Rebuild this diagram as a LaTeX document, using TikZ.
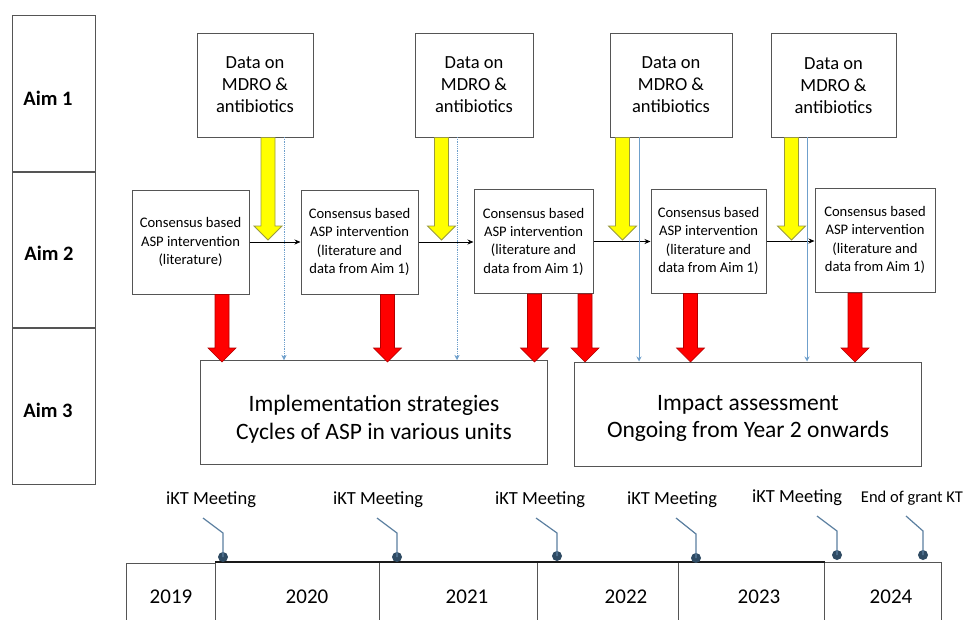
\documentclass[tikz,border=0pt]{standalone}
\usepackage{fontspec}
\setmainfont{Carlito}
\usetikzlibrary{arrows.meta,calc}
\definecolor{boxline}{HTML}{555555}
\definecolor{bluel}{HTML}{6FA0CC}
\definecolor{leadc}{HTML}{5B7FA0}
\definecolor{dotc}{HTML}{2F4B63}
\definecolor{yel}{HTML}{FFFF00}
\definecolor{yelo}{HTML}{9A9A40}
\definecolor{redf}{HTML}{FF0000}
\definecolor{redo}{HTML}{B00000}
\newcommand{\BlockArrow}[4]{% style, x, ytop, ytip
  \draw[#1] (#2-7,#3) -- (#2+7,#3) -- (#2+7,#4-14) -- (#2+14,#4-14) -- (#2,#4)
    -- (#2-14,#4-14) -- (#2-7,#4-14) -- cycle;}
\tikzset{
  aimbox/.style={draw=boxline,line width=1pt,minimum width=83pt,minimum height=157pt},
  aimtxt/.style={font=\fontsize{20.5}{24}\selectfont\bfseries},
  databox/.style={draw=boxline,line width=1pt,minimum height=104pt,align=center,
    font=\fontsize{18.5}{22}\selectfont,inner sep=0pt},
  consbox/.style={draw=boxline,line width=1pt,minimum height=104pt,align=center,
    font=\fontsize{14.6}{18.3}\selectfont,inner sep=0pt,text depth=2pt},
  bigbox/.style={draw=boxline,line width=1pt,minimum width=347pt,minimum height=104pt},
  bigtxt/.style={align=center,font=\fontsize{23.5}{27.5}\selectfont,inner sep=0pt},
  yearbox/.style={draw=boxline,line width=1pt,minimum height=90pt,inner sep=0pt},
  yeartxt/.style={font=\fontsize{21}{24}\selectfont},
  meettxt/.style={font=\fontsize{18.5}{21}\selectfont},
  harrow/.style={-{Stealth[length=6pt,width=5pt]},line width=0.8pt},
  bluearrow/.style={bluel,line width=0.8pt,-{Stealth[length=5pt,width=5pt]}},
  yarrow/.style={fill=yel,draw=yelo,line width=0.8pt},
  rarrow/.style={fill=redf,draw=redo,line width=0.6pt},
  leader/.style={leadc,line width=1.2pt},
  tdot/.style={circle,fill=dotc,inner sep=0pt,minimum size=10pt},
}
\begin{document}
\begin{tikzpicture}[x=1pt,y=-1pt]
\useasboundingbox (0,0) rectangle (963,619);
\clip (0,0) rectangle (963,619);
\fill[white] (0,0) rectangle (963,619);
% Aims column
\node[aimbox] (aim1) at (53.5,93.5) {};
\node[aimbox] (aim2) at (53.5,250) {};
\node[aimbox] (aim3) at (53.5,406) {};
\node[aimtxt] (a1t) at (48,98) {Aim 1};
\node[aimtxt] (a2t) at (49,253) {Aim 2};
\node[aimtxt] (a3t) at (48,410) {Aim 3};
% Data boxes
\node[databox,minimum width=116pt] (d1) at (255,85) {Data on\\MDRO \&\\antibiotics};
\node[databox,minimum width=118pt] (d2) at (474,85) {Data on\\MDRO \&\\antibiotics};
\node[databox,minimum width=122pt] (d3) at (671,85) {Data on\\MDRO \&\\antibiotics};
\node[databox,minimum width=125pt] (d4) at (833.5,85.5) {Data on\\MDRO \&\\antibiotics};
% Consensus boxes
\node[consbox,minimum width=117pt] (c1) at (190.5,242) {Consensus based\\ASP intervention\\(literature)};
\node[consbox,minimum width=117pt] (c2) at (359.5,242) {Consensus based\\ASP intervention\\(literature and\\data from Aim 1)};
\node[consbox,minimum width=119pt] (c3) at (533.5,241.5) {Consensus based\\ASP intervention\\(literature and\\data from Aim 1)};
\node[consbox,minimum width=115pt] (c4) at (708.5,241) {Consensus based\\ASP intervention\\(literature and\\data from Aim 1)};
\node[consbox,minimum width=120pt] (c5) at (875,240) {Consensus based\\ASP intervention\\(literature and\\data from Aim 1)};
% Aim 3 boxes
\node[bigbox] (impl) at (373.5,412.5) {};
\node[bigbox] (impa) at (747.5,414) {};
\node[bigtxt] (implt) at (374,419) {Implementation strategies\\Cycles of ASP in various units};
\node[bigtxt] (impat) at (748,418.5) {Impact assessment\\Ongoing from Year 2 onwards};
% horizontal arrows
\draw[harrow] (c1.east) -- (c1.east -| c2.west);
\draw[harrow] (c2.east) -- (c2.east -| c3.west);
\draw[harrow] (c3.east) -- (c3.east -| c4.west);
\draw[harrow] (c4.east) -- (c4.east -| c5.west);
% blue thin arrows
\coordinate (b1) at (284,137); \coordinate (b2) at (457,137);
\coordinate (b3) at (639,137); \coordinate (b4) at (807,137);
\draw[bluel,line width=0.8pt,densely dotted] (b1) -- (b1 |- impl.north);
\draw[bluel,line width=0.8pt,densely dotted] (b2) -- (b2 |- impl.north);
\draw[bluel,-{Stealth[length=5pt,width=5pt]}] ($(b1 |- impl.north)+(0,-4)$) -- (b1 |- impl.north);
\draw[bluel,-{Stealth[length=5pt,width=5pt]}] ($(b2 |- impl.north)+(0,-4)$) -- (b2 |- impl.north);
\draw[bluearrow] (b3) -- (b3 |- impa.north);
\draw[bluearrow] (b4) -- (b4 |- impa.north);
% yellow arrows
\BlockArrow{yarrow}{268}{137.5}{240}
\BlockArrow{yarrow}{441.5}{137.5}{240}
\BlockArrow{yarrow}{622.5}{137.5}{240}
\BlockArrow{yarrow}{791.5}{137.5}{240}
% red arrows
\BlockArrow{rarrow}{222}{294.5}{362}
\BlockArrow{rarrow}{387.5}{294.5}{362}
\BlockArrow{rarrow}{534.5}{294}{362}
\BlockArrow{rarrow}{585}{294}{362}
\BlockArrow{rarrow}{690.5}{293.5}{362}
\BlockArrow{rarrow}{855}{293}{362}
% timeline year boxes
\node[yearbox,minimum width=89pt,anchor=north west] (y19) at (126,563) {};
\node[yearbox,minimum width=164pt,anchor=north west] (y20) at (215,562) {};
\node[yearbox,minimum width=158pt,anchor=north west] (y21) at (379,562) {};
\node[yearbox,minimum width=141pt,anchor=north west] (y22) at (537,562) {};
\node[yearbox,minimum width=146pt,anchor=north west] (y23) at (678,562) {};
\node[yearbox,minimum width=117pt,anchor=north west] (y24) at (824,562) {};
\draw[line width=2pt,black!90] (y20.north west) -- (y23.north east);
\node[yeartxt] (t19) at (171,597) {2019};
\node[yeartxt] (t20) at (307,597) {2020};
\node[yeartxt] (t21) at (467,597) {2021};
\node[yeartxt] (t22) at (626,597) {2022};
\node[yeartxt] (t23) at (759,597) {2023};
\node[yeartxt] (t24) at (891,597) {2024};
% meetings
\node[meettxt] (m1) at (211,500) {iKT Meeting};
\node[meettxt] (m2) at (378,500) {iKT Meeting};
\node[meettxt] (m3) at (540,500) {iKT Meeting};
\node[meettxt] (m4) at (672,500) {iKT Meeting};
\node[meettxt] (m5) at (797,498) {iKT Meeting};
\node[font=\fontsize{16.5}{18}\selectfont] (m6) at (912,498) {End of grant KT};
\node[tdot] (p1) at (223,557) {};
\node[tdot] (p2) at (397,557) {};
\node[tdot] (p3) at (557,556) {};
\node[tdot] (p4) at (696,558) {};
\node[tdot] (p5) at (837,555) {};
\node[tdot] (p6) at (923,555) {};
\coordinate (q1) at (203,518); \coordinate (q2) at (377,518);
\coordinate (q3) at (536,518); \coordinate (q4) at (676,518);
\coordinate (q5) at (817,516); \coordinate (q6) at (906,516);
\draw[leader] (q1) -- (223,533) -- (p1.center);
\draw[leader] (q2) -- (397,533) -- (p2.center);
\draw[leader] (q3) -- (557,533) -- (p3.center);
\draw[leader] (q4) -- (696,534) -- (p4.center);
\draw[leader] (q5) -- (837,531) -- (p5.center);
\draw[leader] (q6) -- (923,531) -- (p6.center);
\end{tikzpicture}
\end{document}
